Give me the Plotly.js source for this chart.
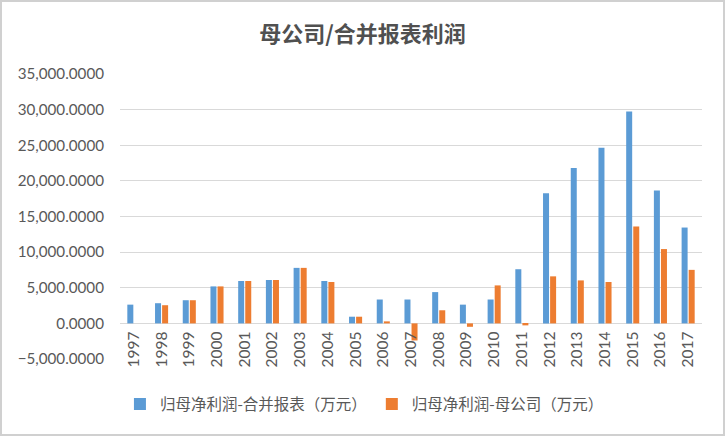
<!DOCTYPE html>
<html><head><meta charset="utf-8">
<script src="https://cdn.plot.ly/plotly-3.0.1.min.js"></script>
<style>
html,body{margin:0;padding:0;background:#fff;}
#chart{width:721px;height:432px;border:2px solid #d0d0d0;}
</style></head>
<body><div id="chart"></div>
<script>
const years = ['1997','1998','1999','2000','2001','2002','2003','2004','2005','2006','2007','2008','2009','2010','2011','2012','2013','2014','2015','2016','2017'];
const consolidated = [2630,2830,3250,5190,5950,6090,7790,5950,935,3350,3350,4390,2630,3350,7600,18270,21810,24640,29740,18640,13450];
const parentCo = [null,2550,3250,5190,5950,6090,7790,5810,935,280,-2400,1840,-480,5330,-280,6600,6030,5810,13600,10430,7510];
const seriesNames = ['归母净利润-合并报表（万元）','归母净利润-母公司（万元）'];
const titleText = '母公司/合并报表利润';
const yTicks = [-5000,0,5000,10000,15000,20000,25000,30000,35000];

const traces = [
  {type:'bar', x:years, y:consolidated, name:seriesNames[0], marker:{color:'#5b9bd5'}},
  {type:'bar', x:years, y:parentCo, name:seriesNames[1], marker:{color:'#ed7d31'}}
];
const layout = {
  width:721, height:432,
  margin:{l:118, r:21, t:72, b:75},
  paper_bgcolor:'#fff', plot_bgcolor:'#fff',
  title:{text:titleText, x:0.5, xanchor:'center', y:0.925, yanchor:'middle',
    font:{family:'Noto Sans CJK SC', size:22, color:'#505050', weight:'bold'}},
  barmode:'group', bargap:0.49, bargroupgap:0.15,
  xaxis:{type:'category', anchor:'free', position:0.125, tickangle:-90,
    showgrid:false, showline:false, ticks:'', zeroline:false, ticklabelstandoff:4,
    tickfont:{family:'Lato, Noto Sans', size:15.5, color:'#595959'}},
  yaxis:{range:[-5000,35000], tickvals:yTicks, tickformat:',.4f',
    gridcolor:'#d9d9d9', gridwidth:1, zeroline:true, zerolinecolor:'#d9d9d9', zerolinewidth:1,
    showline:false, ticks:'', ticklen:0, ticklabelstandoff:15,
    tickfont:{family:'Lato, Noto Sans', size:15.2, color:'#595959'}},
  legend:{orientation:'h', x:0.42, xanchor:'center', y:-0.1, yanchor:'top',
    font:{family:'Noto Sans CJK SC', size:15.5, color:'#595959'}, itemwidth:12},
  showlegend:true
};
Plotly.newPlot('chart', traces, layout, {displayModeBar:false});
</script></body></html>
